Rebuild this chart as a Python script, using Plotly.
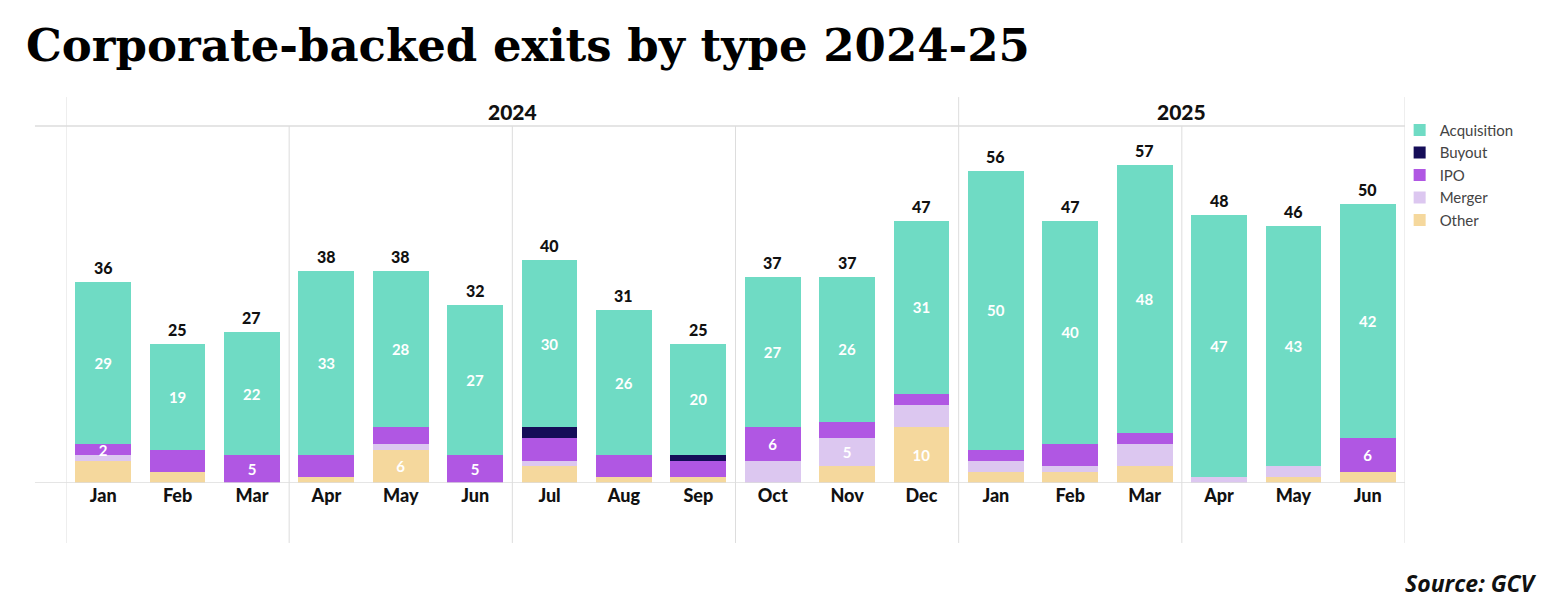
import plotly.graph_objects as go

months = ["Jan", "Feb", "Mar", "Apr", "May", "Jun", "Jul", "Aug", "Sep", "Oct", "Nov", "Dec",
          "Jan", "Feb", "Mar", "Apr", "May", "Jun"]
years = ["2024", "2025"]
acquisition = [29, 19, 22, 33, 28, 27, 30, 26, 20, 27, 26, 31, 50, 40, 48, 47, 43, 42]
buyout      = [0, 0, 0, 0, 0, 0, 2, 0, 1, 0, 0, 0, 0, 0, 0, 0, 0, 0]
ipo         = [2, 4, 5, 4, 3, 5, 4, 4, 3, 6, 3, 2, 2, 4, 2, 0, 0, 6]
merger      = [1, 0, 0, 0, 1, 0, 1, 0, 0, 4, 5, 4, 2, 1, 4, 1, 2, 0]
other       = [4, 2, 0, 1, 6, 0, 3, 1, 1, 0, 3, 10, 2, 2, 3, 0, 1, 2]
totals      = [36, 25, 27, 38, 38, 32, 40, 31, 25, 37, 37, 47, 56, 47, 57, 48, 46, 50]

colors = {
    "Acquisition": "#6FDBC4",
    "Buyout": "#150D58",
    "IPO": "#B057E3",
    "Merger": "#DCC7F0",
    "Other": "#F5D89D",
}

x = list(range(len(months)))
LBL = "Lato"


def labels(vals, extra=()):
    return [str(v) if (v >= 5 or i in extra) and v > 0 else "" for i, v in enumerate(vals)]


fig = go.Figure()
series = [
    ("Other", other, labels(other)),
    ("Merger", merger, labels(merger)),
    ("IPO", ipo, labels(ipo, extra=(0,))),
    ("Buyout", buyout, labels(buyout)),
    ("Acquisition", acquisition, labels(acquisition)),
]
for name, vals, txt in series:
    fig.add_trace(go.Bar(
        x=x, y=vals, name=name, marker=dict(color=colors[name], line=dict(width=0)),
        text=txt, textposition="inside", insidetextanchor="middle", textangle=0,
        textfont=dict(color="white", size=15, family=LBL, weight="bold"),
        hoverinfo="skip",
    ))

for xi, t in zip(x, totals):
    fig.add_annotation(x=xi, y=t, text=str(t), showarrow=False, yanchor="bottom",
                       yshift=3, font=dict(size=16, color="#111111", family=LBL, weight=900))

# year labels
for xc, yr in zip([5.5, 14.5], years):
    fig.add_annotation(x=xc, y=1.042, yref="paper", yanchor="middle", text=yr,
                       showarrow=False, font=dict(size=21, color="#111111", family=LBL, weight=900))

line_col = "#DDDDDD"
shapes = []
shapes.append(dict(type="line", xref="paper", yref="paper", x0=-0.0232, x1=1, y0=1, y1=1,
                   line=dict(color=line_col, width=1.5)))
shapes.append(dict(type="line", xref="paper", yref="y", x0=-0.0232, x1=1, y0=0, y1=0,
                   line=dict(color=line_col, width=1.5)))
for xb in [-0.5, 11.5, 17.5]:
    shapes.append(dict(type="line", xref="x", yref="paper", x0=xb, x1=xb, y0=-0.168, y1=1.081,
                       line=dict(color=line_col, width=1)))
for xb in [2.5, 5.5, 8.5, 14.5]:
    shapes.append(dict(type="line", xref="x", yref="paper", x0=xb, x1=xb, y0=-0.168, y1=1,
                       line=dict(color=line_col, width=1)))

fig.update_layout(
    width=1548, height=616,
    margin=dict(l=58, r=151, t=118, b=141),
    barmode="stack", bargap=0.25,
    plot_bgcolor="white", paper_bgcolor="white",
    shapes=shapes,
    uniformtext=dict(minsize=14, mode="show"),
    showlegend=True,
    legend=dict(x=0.996, y=1.034, xanchor="left", yanchor="top", traceorder="reversed",
                font=dict(size=15, color="#444444", family=LBL), itemwidth=30,
                bgcolor="rgba(0,0,0,0)"),
    xaxis=dict(range=[-0.5, 17.5], tickmode="array", tickvals=x, ticktext=months,
               showgrid=False, zeroline=False, showline=False, ticks="",
               tickfont=dict(size=18, color="#111111", family=LBL, weight=900)),
    yaxis=dict(range=[0, 64], showgrid=False, zeroline=False, showline=False,
               showticklabels=False, ticks=""),
)

fig.add_annotation(xref="paper", yref="paper", x=-0.031, y=1.305, xanchor="left", yanchor="top",
                   text="<b>Corporate-backed exits by type 2024-25</b>", showarrow=False,
                   font=dict(size=45, color="#000000", family="DejaVu Serif"))
fig.add_annotation(xref="paper", yref="paper", x=1.1, y=-0.28, xanchor="right", yanchor="middle",
                   text="<b><i>Source: GCV</i></b>", showarrow=False,
                   font=dict(size=23, color="#111111", family="Open Sans"))

fig.write_html("out.html")
